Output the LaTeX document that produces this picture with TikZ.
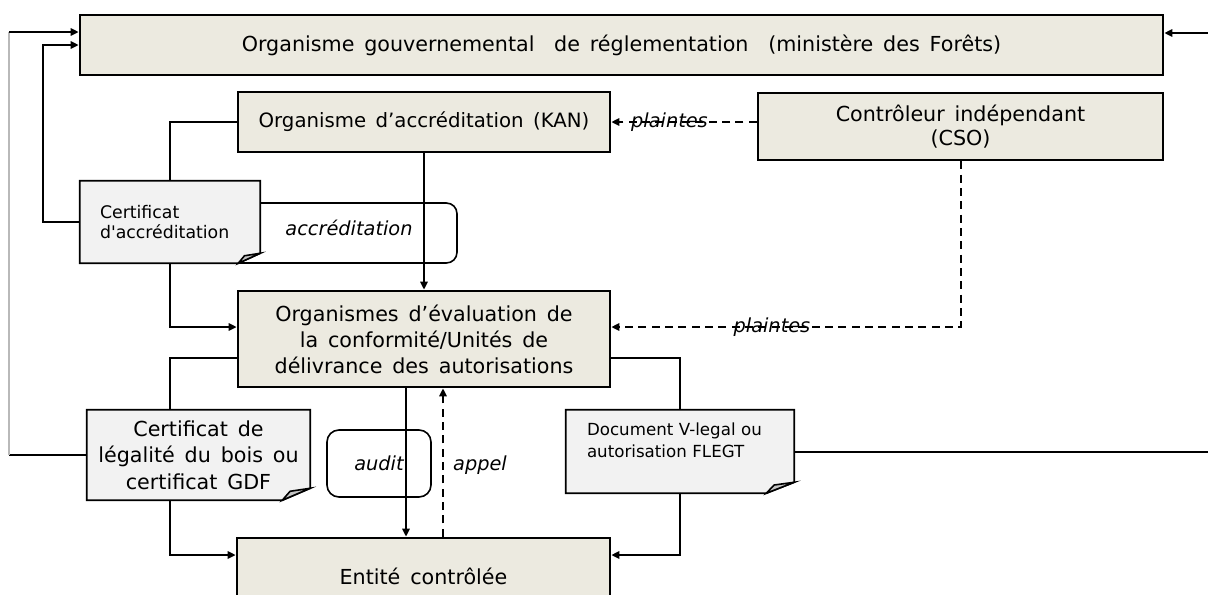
\documentclass[tikz,border=0pt]{standalone}
\usepackage{fontspec}
\setmainfont{DejaVu Sans}[WordSpace=1.5]
\usetikzlibrary{arrows.meta,calc,backgrounds}
\definecolor{boxbeige}{RGB}{236,234,224}
\definecolor{docgray}{RGB}{242,242,242}
\definecolor{foldgray}{RGB}{195,195,195}

\begin{document}
\begin{tikzpicture}[x=0.75pt,y=-0.75pt,
  boxsize/.style 2 args={minimum width=#1*0.75pt,minimum height=#2*0.75pt},
  org/.style={draw,line width=2pt,fill=boxbeige,inner sep=0pt,align=center,font=\fontsize{15.5}{19.5}\selectfont},
  doc/.style={inner sep=0pt},
  docline/.style={line width=1.2pt},
  lbl/.style={inner sep=1pt,font=\fontsize{14.5}{17}\selectfont\itshape},
  conn/.style={line width=1.5pt},
  arr/.style={conn,-{Triangle[length=6pt,width=5.5pt]}},
  darr/.style={arr,dash pattern=on 6pt off 4pt}]
\useasboundingbox (0,0) rectangle (1208,594);
\clip (0,0) rectangle (1208,594);

% organismes
\node[org,boxsize={1083}{60}] (gov) at (621.5,45) {Organisme gouvernemental\ \ de réglementation\ \ (ministère des Forêts)};
\node[org,boxsize={372}{60},font=\fontsize{14.8}{18}\selectfont] (kan) at (424,122) {Organisme d’accréditation (KAN)};
\node[org,boxsize={405}{67},font=\fontsize{15.5}{18}\selectfont] (cso) at (960.5,126.5) {Contrôleur indépendant\\(CSO)};
\node[org,boxsize={372}{96}] (oec) at (424,339) {Organismes d’évaluation de\\la conformité/Unités de\\délivrance des autorisations};
\node[org,boxsize={373}{76}] (entite) at (423.5,576) {Entité contrôlée};

% documents
\node[doc,boxsize={180}{82},text width=105pt,align=left,font=\fontsize{13}{15}\selectfont] (cacc) at (170,222) {Certificat\\d\textquotesingle accréditation};
\node[doc,boxsize={223}{90},align=center,font=\fontsize{15.5}{20}\selectfont] (gdf) at (198.5,455) {Certificat de\\légalité du bois ou\\certificat GDF};
\node[doc,boxsize={228}{83},text width=139.5pt,align=left,font=\fontsize{12.5}{16.5}\selectfont] (vleg) at (680,451.5) {Document V-legal ou\\autorisation FLEGT\\\mbox{}};

\begin{scope}[on background layer]
\foreach \n/\fw/\fh in {cacc/22/10, gdf/28/12, vleg/28/11}{
  \filldraw[docline,fill=docgray] (\n.north west) -- (\n.north east) -- ($(\n.south east)+(0,-\fh)$) -- ($(\n.south east)+(-\fw,0)$) -- (\n.south west) -- cycle;
  \filldraw[docline,fill=foldgray] ($(\n.south east)+(0,-\fh)$) -- ($(\n.south east)+(-0.72*\fw,-0.75*\fh)$) -- ($(\n.south east)+(-\fw,0)$) -- cycle;
}
\end{scope}

% etiquettes
\draw[docline,rounded corners=8pt] (260,203) -- (457,203) -- (457,263) -- (238,263);
\node[lbl] (accr) at (349,228) {accréditation};
\node[lbl,draw,docline,rounded corners=9pt,boxsize={104}{67}] (audit) at (379,463.5) {audit};
\node[lbl] (appel) at (480,465) {appel};

\coordinate (le) at (9,0);
\coordinate (le2) at (43,0);
\coordinate (re) at (1208,0);
\coordinate (au) at (406,0);
\coordinate (ap) at (443,0);
\coordinate (gin1) at ($(gov.west)+(0,-13)$);
\coordinate (gin2) at ($(gov.east)+(0,-12)$);

% liaisons
\draw[conn] (gdf.west) -- (gdf.west -| le);
\draw[gray!55,line width=0.8pt] (gdf.west -| le) -- (gin1 -| le);
\draw[arr] (gin1 -| le) -- (gin1);
\draw[arr] (cacc.west) -- (cacc.west -| le2) |- (gov.west);
\draw[conn] (kan.west) -| (cacc.north);
\draw[arr] (cacc.south) |- ($(oec.west)+(0,-12)$);
\draw[arr] (kan.south) -- (oec.north);
\draw[darr] (cso.west |- kan.east) -- node[lbl,pos=0.6] {plaintes} (kan.east);
\draw[darr] (cso.south) |- node[lbl,pos=0.77] {plaintes} ($(oec.east)+(0,-12)$);
\draw[conn] ($(oec.west)+(0,19)$) -| (gdf.north -| cacc.south);
\draw[arr] (gdf.south -| cacc.south) |- ($(entite.west)+(0,-21)$);
\draw[conn] ($(oec.east)+(0,19)$) -| (vleg.north);
\draw[arr] (vleg.south) |- ($(entite.east)+(0,-21)$);
\draw[conn] (vleg.east) -- (vleg.east -| re);
\draw[arr] (gin2 -| re) -- (gin2);
\draw[arr] (oec.south -| au) -- (entite.north -| au);
\draw[darr] (entite.north -| ap) -- (oec.south -| ap);
\end{tikzpicture}
\end{document}
